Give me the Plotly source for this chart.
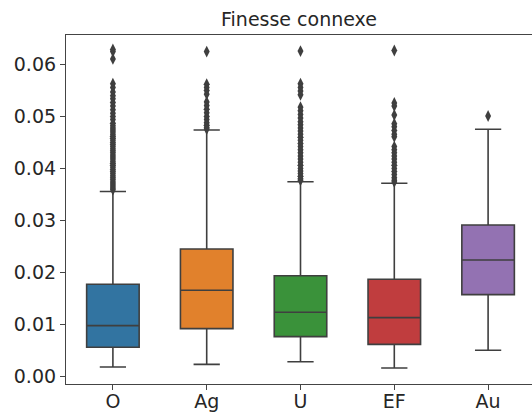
import plotly.graph_objects as go

categories = ["O", "Ag", "U", "EF", "Au"]
q1 = [0.00553, 0.00912, 0.00758, 0.00610, 0.01567]
median = [0.00970, 0.01651, 0.01227, 0.01124, 0.02235]
q3 = [0.01767, 0.02447, 0.01933, 0.01863, 0.02909]
lower_whisker = [0.00173, 0.00225, 0.00276, 0.00154, 0.00495]
upper_whisker = [0.03555, 0.04740, 0.03744, 0.03713, 0.04753]
colors = ["#3274a1", "#e1812c", "#3a923a", "#c03d3e", "#9372b2"]

outliers_O = [0.0629, 0.0625, 0.0611, 0.0563, 0.0556, 0.0547, 0.0540, 0.0534, 0.0527,
              0.0520, 0.0513, 0.0506, 0.0500, 0.0494, 0.0487, 0.0482, 0.0478, 0.0474,
              0.0470, 0.0466, 0.0462, 0.0458, 0.0454, 0.0450, 0.0446, 0.0442, 0.0438,
              0.0434, 0.0430, 0.0426, 0.0422, 0.0418, 0.0414, 0.0410, 0.0406, 0.0402,
              0.0398, 0.0394, 0.0390, 0.0386, 0.0382, 0.0378, 0.0374, 0.0370, 0.0366,
              0.0362, 0.0359]
outliers_Ag = [0.0625, 0.0562, 0.0556, 0.0550, 0.0543, 0.0528, 0.0521, 0.0514, 0.0507,
               0.0500, 0.0494, 0.0488, 0.0483, 0.0479, 0.0476]
outliers_U = [0.0626, 0.0563, 0.0556, 0.0549, 0.0542, 0.0518, 0.0511, 0.0504, 0.0497,
              0.0490, 0.0484, 0.0478, 0.0472, 0.0466, 0.0460, 0.0454, 0.0448, 0.0442,
              0.0436, 0.0430, 0.0424, 0.0418, 0.0412, 0.0406, 0.0400, 0.0395, 0.0390,
              0.0385, 0.0380, 0.0377]
outliers_EF = [0.0627, 0.0526, 0.0520, 0.0503, 0.0486, 0.0480, 0.0473, 0.0466, 0.0461,
               0.0442, 0.0436, 0.0430, 0.0424, 0.0418, 0.0412, 0.0406, 0.0400, 0.0394,
               0.0388, 0.0382, 0.0377, 0.0374]
outliers_Au = [0.0501]
outliers = [outliers_O, outliers_Ag, outliers_U, outliers_EF, outliers_Au]

edge = "#3f3f3f"
fig = go.Figure()
for i, cat in enumerate(categories):
    fig.add_trace(go.Box(
        x=[cat], q1=[q1[i]], median=[median[i]], q3=[q3[i]],
        lowerfence=[lower_whisker[i]], upperfence=[upper_whisker[i]],
        fillcolor=colors[i], line=dict(color=edge, width=1.6),
        boxpoints=False, whiskerwidth=0.5, showlegend=False, hoverinfo="skip",
    ))
    fig.add_trace(go.Scatter(
        x=[cat] * len(outliers[i]), y=outliers[i], mode="markers",
        marker=dict(symbol="diamond-tall", size=8.5, color=edge,
                    line=dict(width=0)),
        showlegend=False, hoverinfo="skip",
    ))

W, H = 532, 419
fig.update_layout(
    width=W, height=H,
    margin=dict(l=66, r=0, t=35, b=35, autoexpand=False),
    paper_bgcolor="white", plot_bgcolor="white",
    boxmode="overlay", boxgap=0.2,
    title=dict(text="Finesse connexe", x=299 / W, xanchor="center",
               y=1 - 19 / H, yanchor="middle",
               font=dict(family="DejaVu Sans", size=19, color="#262626")),
    font=dict(family="DejaVu Sans", color="#262626"),
)
fig.update_xaxes(
    type="category", categoryorder="array", categoryarray=categories,
    range=[-0.5, 4.468], showgrid=False, zeroline=False, automargin=False,
    showline=True, linecolor="#444444", linewidth=1.2, mirror=True,
    ticks="outside", ticklen=5, tickcolor="#444444", tickwidth=1.2,
    ticklabelstandoff=-5,
    tickfont=dict(family="DejaVu Sans", size=19, color="#262626"),
)
fig.update_yaxes(
    range=[-0.00154, 0.0657], tickvals=[0, 0.01, 0.02, 0.03, 0.04, 0.05, 0.06],
    tickformat=".2f", showgrid=False, zeroline=False, automargin=False,
    showline=True, linecolor="#444444", linewidth=1.2,
    ticks="outside", ticklen=5, tickcolor="#444444", tickwidth=1.2,
    tickfont=dict(family="DejaVu Sans", size=19, color="#262626"),
)
fig.write_html(
    "out.html",
    config={"displayModeBar": False},
    post_script="document.body.style.margin='0';document.body.style.overflow='hidden';",
)
